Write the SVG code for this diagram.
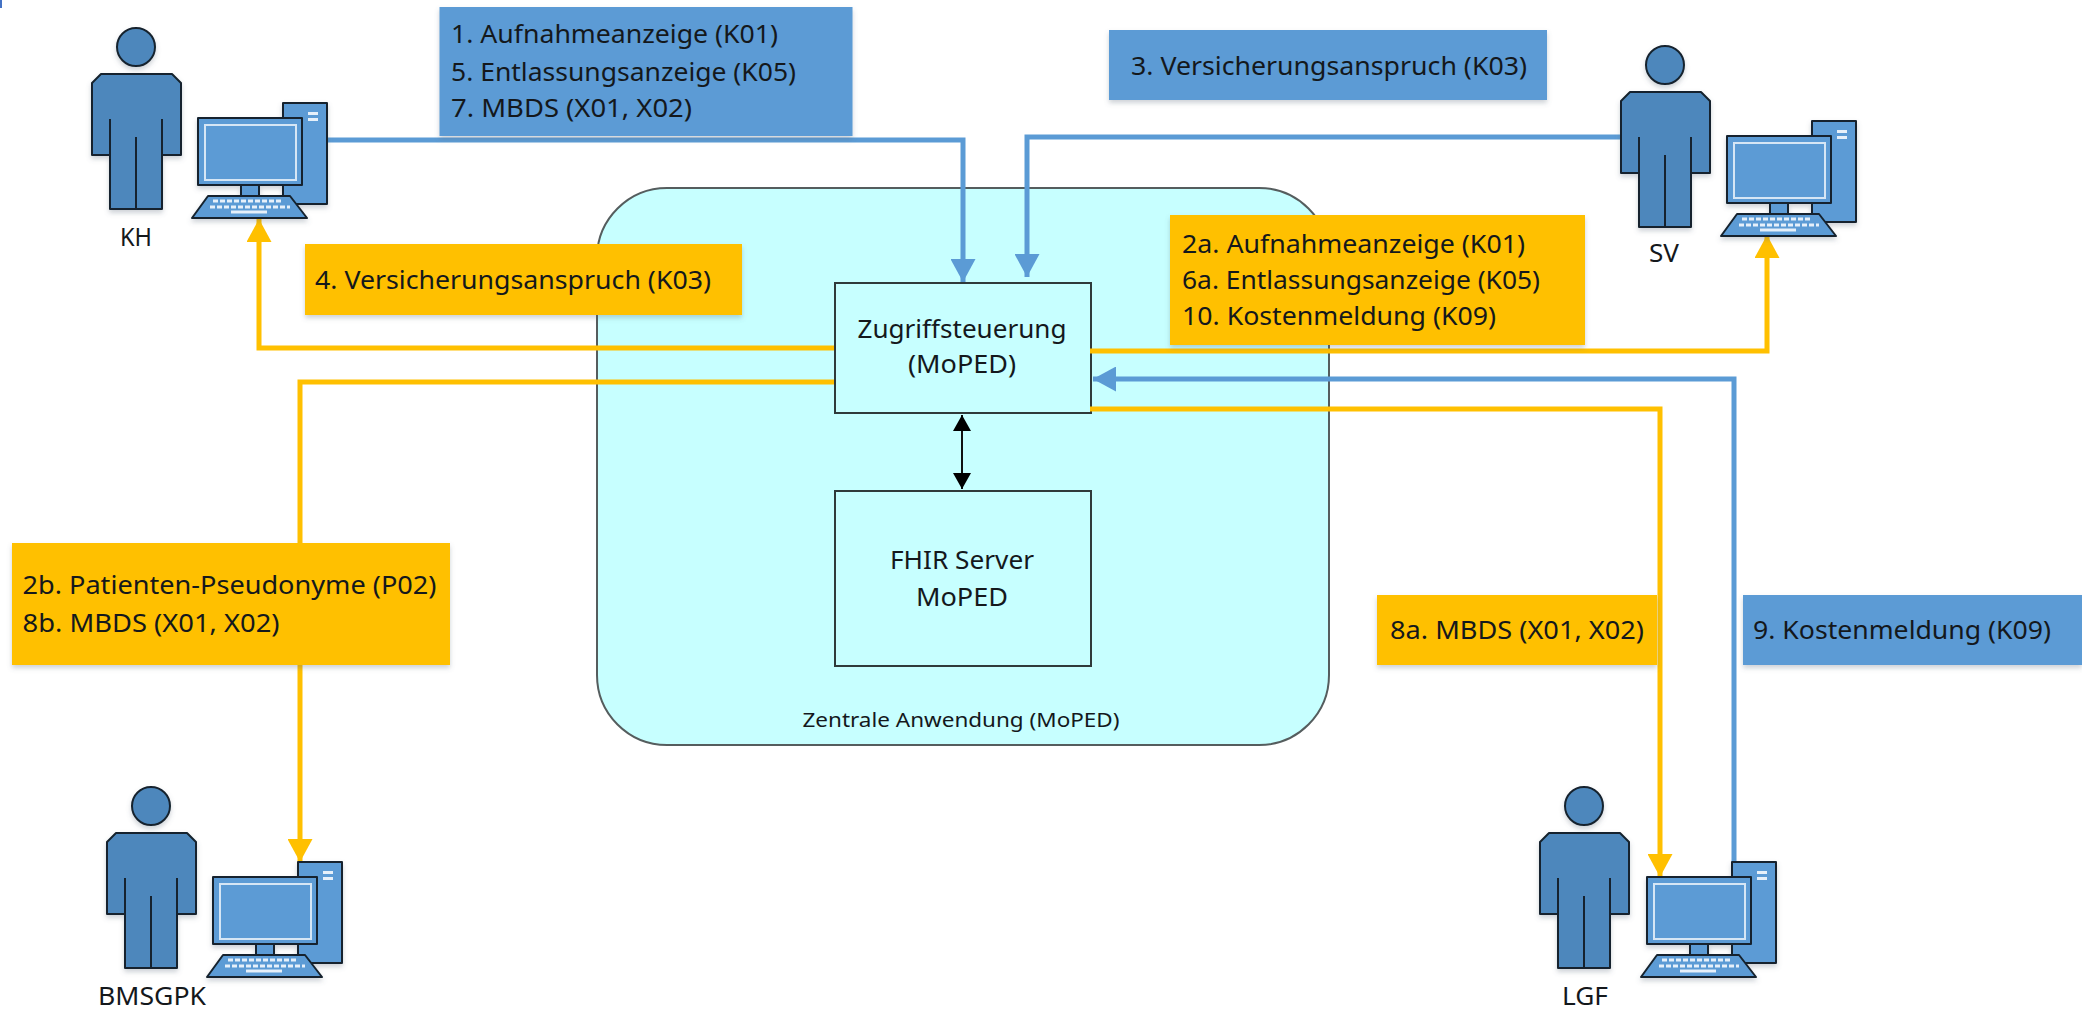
<svg xmlns="http://www.w3.org/2000/svg" xmlns:xlink="http://www.w3.org/1999/xlink" width="2082" height="1009" viewBox="0 0 2082 1009">
<style>
text{font-family:"Noto Sans","Open Sans","Liberation Sans",sans-serif;font-size:26px;fill:#14181c}
.lbl{text-anchor:middle}
.blue{fill:#5B9BD5;filter:url(#sh)}
.yellow{fill:#FFC000;filter:url(#sh)}
.inner{fill:#C7FFFF;stroke:#2f3a3a;stroke-width:2}
.outer{fill:#C7FFFF;stroke:#555d5e;stroke-width:2}
.cb{fill:none;stroke:#5B9BD5;stroke-width:5}
.cy{fill:none;stroke:#FFC000;stroke-width:5}
.ck{fill:none;stroke:#111;stroke-width:2}
.pb{fill:#4D87BC;stroke:#16242f;stroke-width:2;stroke-linejoin:round}
.pl{fill:none;stroke:#16242f;stroke-width:2}
.cf{fill:#5B9BD5;stroke:#16242f;stroke-width:2;stroke-linejoin:round}
.cw{fill:none;stroke:#d6e6f5;stroke-width:2}
.key{fill:none;stroke:#e6f0fa;stroke-width:3;stroke-dasharray:5 2}
</style>
<defs>
<filter id="sh" x="-10%" y="-10%" width="120%" height="125%"><feDropShadow dx="0" dy="3" stdDeviation="2.5" flood-color="#5a6a7a" flood-opacity=".3"/></filter>
<marker id="ab" markerUnits="userSpaceOnUse" markerWidth="24" markerHeight="25" refX="23" refY="12.500" orient="auto"><path d="M0 0L23 12.500L0 25Z" fill="#5B9BD5"/></marker>
<marker id="ay" markerUnits="userSpaceOnUse" markerWidth="24" markerHeight="25" refX="23" refY="12.500" orient="auto"><path d="M0 0L23 12.500L0 25Z" fill="#FFC000"/></marker>
<marker id="ak" markerUnits="userSpaceOnUse" markerWidth="18" markerHeight="18" refX="16" refY="9" orient="auto"><path d="M0 0L16 9L0 18Z" fill="#000"/></marker>
<marker id="aks" markerUnits="userSpaceOnUse" markerWidth="18" markerHeight="18" refX="0" refY="9" orient="auto"><path d="M16 0L0 9L16 18Z" fill="#000"/></marker>
<g id="person" filter="url(#sh)">
<circle class="pb" cx="136" cy="47" r="19"/>
<path class="pb" d="M101 74H172L181 83V155H162V209H110V155H92V83Z"/>
<path class="pl" d="M110 119V155M162 119V155M136 137V209"/>
</g>
<g id="computer" filter="url(#sh)">
<rect class="cf" x="283" y="103" width="44" height="101"/>
<rect x="308" y="112" width="10" height="3" fill="#e6f0fa"/><rect x="308" y="118" width="10" height="3" fill="#e6f0fa"/>
<rect class="cf" x="241" y="185" width="18" height="12"/>
<rect class="cf" x="198" y="118" width="104" height="67"/>
<rect class="cw" x="205" y="125" width="91" height="55"/>
<path class="cf" d="M208 196H290L307 218H192Z"/>
<path class="key" d="M213 201H283M210 207H290"/>
<path d="M231 212H267" fill="none" stroke="#e6f0fa" stroke-width="3"/>
</g>
</defs>
<rect width="2082" height="1009" fill="#fff"/>
<rect x="0" y="0" width="2" height="8" fill="#4472C4"/>

<g id="zentrale">
<rect class="outer" x="597" y="188" width="732" height="557" rx="70" ry="70"/>
<text x="961" y="727" class="lbl" style="font-size:20px" textLength="317" lengthAdjust="spacingAndGlyphs">Zentrale Anwendung (MoPED)</text>
</g>
<g id="zugriff">
<rect class="inner" x="835" y="283" width="256" height="130"/>
<text x="962" y="338" class="lbl" textLength="209" lengthAdjust="spacingAndGlyphs">Zugriffsteuerung</text>
<text x="962" y="373" class="lbl" textLength="108" lengthAdjust="spacingAndGlyphs">(MoPED)</text>
</g>
<g id="fhir">
<rect class="inner" x="835" y="491" width="256" height="175"/>
<text x="962" y="569" class="lbl" textLength="144" lengthAdjust="spacingAndGlyphs">FHIR Server</text>
<text x="962" y="606" class="lbl" textLength="92" lengthAdjust="spacingAndGlyphs">MoPED</text>
</g>

<g id="connectors">
<path class="ck" d="M962 415V489" marker-start="url(#aks)" marker-end="url(#ak)"/>
<path class="cb" d="M327 140H963V282" marker-end="url(#ab)"/>
<path class="cb" d="M1621 137H1027V277" marker-end="url(#ab)"/>
<path class="cy" d="M834 348H259V219" marker-end="url(#ay)"/>
<path class="cy" d="M834 382H300V862" marker-end="url(#ay)"/>
<path class="cy" d="M1090 351H1767V235" marker-end="url(#ay)"/>
<path class="cy" d="M1090 409H1660V877" marker-end="url(#ay)"/>
<path class="cb" d="M1734 864V379H1093" marker-end="url(#ab)"/>
</g>

<g id="label-1">
<rect class="blue" x="439.500" y="7" width="413" height="129"/>
<text x="451" y="43" textLength="327" lengthAdjust="spacingAndGlyphs">1. Aufnahmeanzeige (K01)</text>
<text x="451" y="81" textLength="345" lengthAdjust="spacingAndGlyphs">5. Entlassungsanzeige (K05)</text>
<text x="451" y="117" textLength="241" lengthAdjust="spacingAndGlyphs">7. MBDS (X01, X02)</text>
</g>
<g id="label-3">
<rect class="blue" x="1109" y="30" width="438" height="70"/>
<text x="1131" y="75" textLength="396" lengthAdjust="spacingAndGlyphs">3. Versicherungsanspruch (K03)</text>
</g>
<g id="label-2a">
<rect class="yellow" x="1170" y="215" width="415" height="130"/>
<text x="1182" y="253" textLength="343" lengthAdjust="spacingAndGlyphs">2a. Aufnahmeanzeige (K01)</text>
<text x="1182" y="289" textLength="358" lengthAdjust="spacingAndGlyphs">6a. Entlassungsanzeige (K05)</text>
<text x="1182" y="325" textLength="314" lengthAdjust="spacingAndGlyphs">10. Kostenmeldung (K09)</text>
</g>
<g id="label-4">
<rect class="yellow" x="305" y="244" width="437" height="71"/>
<text x="315" y="289" textLength="396" lengthAdjust="spacingAndGlyphs">4. Versicherungsanspruch (K03)</text>
</g>
<g id="label-2b">
<rect class="yellow" x="12" y="543" width="438" height="122"/>
<text x="22.500" y="594" textLength="414" lengthAdjust="spacingAndGlyphs">2b. Patienten-Pseudonyme (P02)</text>
<text x="22.500" y="632" textLength="257" lengthAdjust="spacingAndGlyphs">8b. MBDS (X01, X02)</text>
</g>
<g id="label-8a">
<rect class="yellow" x="1377" y="595" width="280" height="70"/>
<text x="1390" y="639" textLength="254" lengthAdjust="spacingAndGlyphs">8a. MBDS (X01, X02)</text>
</g>
<g id="label-9">
<rect class="blue" x="1743" y="595" width="339" height="70"/>
<text x="1753" y="639" textLength="298" lengthAdjust="spacingAndGlyphs">9. Kostenmeldung (K09)</text>
</g>

<g id="kh">
<use href="#person"/><use href="#computer"/>
<text x="136" y="246" class="lbl" textLength="32" lengthAdjust="spacingAndGlyphs">KH</text>
</g>
<g id="sv">
<use href="#person" transform="translate(1529 18)"/><use href="#computer" transform="translate(1529 18)"/>
<text x="1664" y="262" class="lbl" textLength="30" lengthAdjust="spacingAndGlyphs">SV</text>
</g>
<g id="bmsgpk">
<use href="#person" transform="translate(15 759)"/><use href="#computer" transform="translate(15 759)"/>
<text x="152" y="1005" class="lbl" textLength="108" lengthAdjust="spacingAndGlyphs">BMSGPK</text>
</g>
<g id="lgf">
<use href="#person" transform="translate(1448 759)"/><use href="#computer" transform="translate(1449 759)"/>
<text x="1585" y="1005" class="lbl" textLength="46" lengthAdjust="spacingAndGlyphs">LGF</text>
</g>
</svg>
